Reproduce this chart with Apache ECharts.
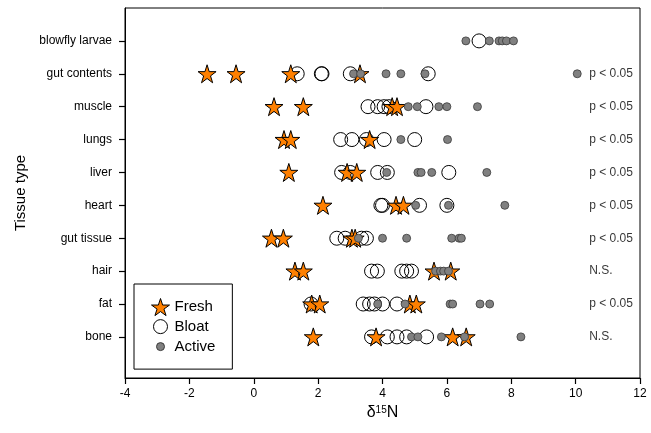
<!DOCTYPE html>
<html>
<head>
<meta charset="utf-8">
<script src="https://cdn.jsdelivr.net/npm/echarts@6/dist/echarts.min.js"></script>
<style>
  html, body { margin: 0; padding: 0; background: #fff; }
  #chart { width: 651px; height: 433px; }
</style>
</head>
<body>
<div id="chart"></div>
<script>
// tissues, bottom to top
const categories = ['bone', 'fat', 'hair', 'gut tissue', 'heart', 'liver', 'lungs', 'muscle', 'gut contents', 'blowfly larvae'];

// d15N values per tissue (same order as categories)
const fresh = [
  [1.85, 3.8, 6.18, 6.6],
  [1.8, 2.05, 4.85, 5.05],
  [1.28, 1.54, 5.6, 6.12],
  [0.55, 0.92, 3.05, 3.15],
  [2.15, 4.42, 4.65],
  [1.09, 2.9, 3.2],
  [0.94, 1.15, 3.6],
  [0.63, 1.54, 4.3, 4.45],
  [-1.45, -0.55, 1.15, 3.3],
  []
];
const bloat = [
  [3.66, 4.15, 4.45, 4.75, 5.37],
  [1.78, 3.4, 3.6, 3.75, 4.0, 4.45],
  [3.66, 3.84, 4.6, 4.75, 4.9],
  [2.58, 2.84, 3.35, 3.5],
  [3.95, 4.0, 5.15, 6.0],
  [2.73, 3.0, 3.85, 4.15, 6.06],
  [2.7, 3.05, 3.5, 4.05, 5.0],
  [3.55, 3.85, 4.05, 4.2, 5.35],
  [1.35, 2.1, 2.12, 3.0, 5.42],
  [7.0]
];
const active = [
  [4.9, 5.1, 5.83, 6.55, 8.3],
  [3.85, 4.7, 6.1, 6.18, 7.03, 7.33],
  [5.65, 5.8, 5.9, 6.05],
  [3.25, 4.0, 4.75, 6.15, 6.38, 6.45],
  [5.03, 6.05, 7.8],
  [4.13, 5.1, 5.2, 5.53, 7.24],
  [4.57, 6.02],
  [4.8, 5.08, 5.75, 6.0, 6.95],
  [3.1, 3.32, 4.11, 4.57, 5.32, 10.05],
  [6.59, 7.32, 7.62, 7.72, 7.85, 8.07]
];
// significance notes on the right
const notes = ['N.S.', 'p < 0.05', 'N.S.', 'p < 0.05', 'p < 0.05', 'p < 0.05', 'p < 0.05', 'p < 0.05', 'p < 0.05', ''];

function flatten(rows) {
  const out = [];
  rows.forEach((vals, i) => vals.forEach(v => out.push([v, i])));
  return out;
}

const star = 'path://M10,0 L12.245,6.91 L19.511,6.91 L13.633,11.18 L15.878,18.09 L10,13.82 L4.122,18.09 L6.367,11.18 L0.489,6.91 L7.755,6.91 Z';
// legend icons padded so they stay small inside the 18px box
const bloatIcon = 'path://M0,0 M18,18 M2,9 A7,7 0 1,1 16,9 A7,7 0 1,1 2,9 Z';
const activeIcon = 'path://M0,0 M18,18 M5,9 A4,4 0 1,1 13,9 A4,4 0 1,1 5,9 Z';

const chart = echarts.init(document.getElementById('chart'));
chart.setOption({
  animation: false,
  textStyle: { fontFamily: 'Liberation Sans, Arial, sans-serif', color: '#000' },
  grid: { left: 125, right: 11, top: 8, bottom: 55, show: true, borderColor: '#000', borderWidth: 1 },
  legend: {
    orient: 'vertical',
    left: 134,
    top: 284,
    padding: [14, 17, 13, 17],
    itemWidth: 18,
    itemHeight: 18,
    itemGap: 1,
    borderColor: '#000',
    borderWidth: 1,
    itemStyle: { borderWidth: 1 },
    textStyle: { fontSize: 15, color: '#000' },
    data: [
      { name: 'Fresh', icon: star },
      { name: 'Bloat', icon: bloatIcon },
      { name: 'Active', icon: activeIcon }
    ]
  },
  xAxis: {
    type: 'value',
    min: -4,
    max: 12,
    interval: 2,
    name: '{a|δ}{b|15}{a|N}',
    nameLocation: 'middle',
    nameGap: 27,
    nameTextStyle: {
      rich: {
        a: { fontSize: 16, color: '#000' },
        b: { fontSize: 10, color: '#000', verticalAlign: 'top' }
      }
    },
    axisLine: { onZero: false, lineStyle: { color: '#000', width: 1 } },
    axisTick: { show: true, inside: false, length: 6, lineStyle: { color: '#000', width: 1.2 } },
    axisLabel: { fontSize: 12, color: '#000', margin: 10 },
    splitLine: { show: false }
  },
  yAxis: {
    type: 'value',
    min: -1.25,
    max: 10,
    name: 'Tissue type',
    nameLocation: 'middle',
    nameGap: 93,
    nameTextStyle: { fontSize: 15, color: '#000' },
    axisLine: { show: true, onZero: false, lineStyle: { color: '#000', width: 1 } },
    axisTick: { show: true, inside: false, length: 6, customValues: categories.map((c, i) => i), lineStyle: { color: '#000', width: 1.2 } },
    axisLabel: {
      fontSize: 12, color: '#000', margin: 13,
      customValues: categories.map((c, i) => i),
      formatter: v => categories[Math.round(v)]
    },
    splitLine: { show: false }
  },
  series: [
    {
      name: 'Bloat',
      type: 'scatter',
      symbol: 'circle',
      symbolSize: 14,
      itemStyle: { color: 'rgba(255,255,255,0)', borderColor: '#000', borderWidth: 1, opacity: 1 },
      data: flatten(bloat),
      z: 2
    },
    {
      name: 'Fresh',
      type: 'scatter',
      symbol: star,
      symbolSize: 18,
      itemStyle: { color: '#ff8000', borderColor: '#000', borderWidth: 1, opacity: 1 },
      data: flatten(fresh),
      z: 3
    },
    {
      name: 'Active',
      type: 'scatter',
      symbol: 'circle',
      symbolSize: 8,
      itemStyle: { color: '#808080', borderColor: '#3a3a3a', borderWidth: 0.8, opacity: 1 },
      data: flatten(active),
      z: 4
    },
    {
      name: 'notes',
      type: 'scatter',
      symbolSize: 0,
      silent: true,
      data: notes.map((t, i) => [10.42, i, t]).filter(d => d[2]),
      label: {
        show: true,
        position: 'right',
        distance: 0,
        fontSize: 12,
        color: '#000',
        formatter: p => p.data[2]
      },
      z: 5
    }
  ]
});
</script>
</body>
</html>
